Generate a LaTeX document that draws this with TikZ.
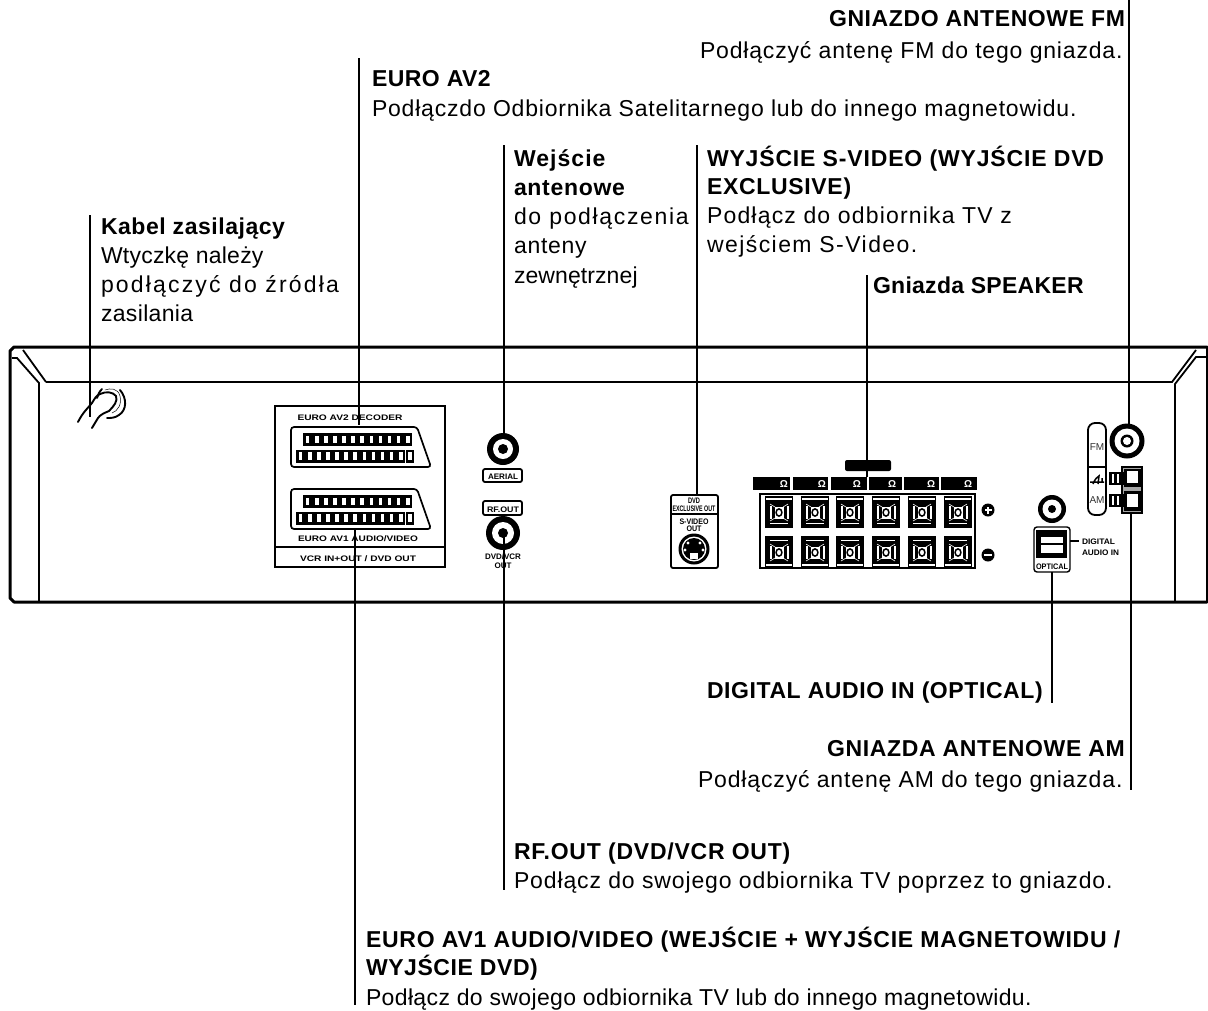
\documentclass[tikz,border=0pt]{standalone}
\usepackage{fontspec}
\usepackage{graphicx}
\setmainfont{Liberation Sans}
\ExplSyntaxOn
\newcommand\charcount[1]{\str_count:n{#1}}
\ExplSyntaxOff
\newsavebox\fitbox
\newcommand\fit[2]{\sbox\fitbox{#2}\edef\fitn{\charcount{#2}}\pgfmathsetmacro\fitsp{100*(#1*1.006-\wd\fitbox)/(\fitn*23)}\edef\fittmp{\noexpand\addfontfeature{LetterSpace=\fitsp}}\fittmp #2}
\tikzset{
 x=1pt,y=-1pt,
 lbl/.style={anchor=base west,inner sep=0pt,outer sep=0pt,font=\fontsize{23}{27}\selectfont},
 lblb/.style={lbl,font=\fontsize{23}{27}\selectfont\bfseries},
 tiny/.style={anchor=base,inner sep=0pt,outer sep=0pt,font=\fontsize{8}{9}\selectfont\bfseries},
 leader/.style={line width=1.3pt},
 chassis/.style={line width=3pt,line cap=round,line join=round},
 chassisthin/.style={line width=1.8pt,line join=miter},
 boxln/.style={line width=1.6pt,rounded corners=2pt}
}
\newcommand\lab[6][lbl]{\node[#1] (#2) at (#3,#4) {\fit{#5}{#6}};}
\newcommand\tinylab[6][black]{\node[tiny,text=#1] (#2) at (#3,#4) {\resizebox{#5pt}{\height}{#6}};}
\newcommand\scart[1]{%
 \begin{scope}[yshift=-#1pt]
  \draw[line width=1.7pt,rounded corners=3pt] (291,427) -- (417,427) -- (431,467) -- (291,467) -- cycle;
  \foreach \i in {0,...,11}{\fill (303+9.1*\i,433) rectangle +(9.1,12.5); \fill[white] (305.8+9.1*\i,435.5) rectangle +(3.6,7.5);}
  \foreach \i in {0,...,11}{\fill (296+9.1*\i,449.5) rectangle +(9.1,13); \fill[white] (298.8+9.1*\i,452) rectangle +(3.6,8);}
  \fill (406,449.5) rectangle +(8,13); \fill[white] (408.3,452) rectangle +(3.4,8);
 \end{scope}}
\newcommand\coax[5]{% x y outer white dot
 \fill (#1,#2) circle (#3); \fill[white] (#1,#2) circle (#4); \fill (#1,#2) circle (#5);}
\newcommand\terminal[3]{% x y flip(1 top, -1 bottom)
 \begin{scope}[shift={(#1,#2)}]
  \fill (0,0) rectangle (28,32);
  \ifnum#3=1
   \fill[white] (1,1.6) rectangle (27,4);
   \fill[white] (5,27) rectangle (23,28.4);
  \else
   \fill[white] (1,28) rectangle (27,30.4);
   \fill[white] (5,3.6) rectangle (23,5);
  \fi
  \fill[white] (4.5,10) rectangle (6.5,23);
  \fill[white] (21.5,10) rectangle (23.5,23);
  \draw[white,line width=.6pt] (5,8) -- (10,11) (23,8) -- (18,11) (5,25) -- (10,22) (23,25) -- (18,22);
  \fill[white] (9.5,10.5) rectangle (18.5,22.5);
  \draw[line width=1.5pt] (14,16.5) ellipse (2.9 and 3.6);
  \fill[white] (14,16.5) circle (1.4);
 \end{scope}}
\begin{document}
\begin{tikzpicture}
\useasboundingbox (0,0) rectangle (1208,1010);
% ---------- chassis
\draw[chassis] (1207,347) -- (14,347) -- (10,351) -- (10,598) -- (14,602) -- (1207,602);
\draw[line width=1.6pt] (1207,347) -- (1207,602);
\draw[chassisthin] (46,382) -- (1172,382) -- (1196,350);
\draw[chassisthin] (46,382) -- (23,350);
\draw[chassisthin] (12,358) -- (17,358) -- (39,383) -- (39,602);
\draw[chassisthin] (1207,357) -- (1196,357) -- (1175,384) -- (1175,602);
% ---------- power inlet
\draw[line width=1.9pt,line cap=round] (78,422) .. controls (83,412) and (88,408) .. (92,403) .. controls (95,398) and (96,396) .. (100,394) .. controls (106,391) and (113,392) .. (116,396) .. controls (118,401) and (114,406) .. (109,411) .. controls (104,413) and (100,415) .. (98,418) -- (92,428);
\draw[line width=1.9pt,line cap=round] (120,390) .. controls (127,398) and (127,410) .. (119,415) .. controls (115,418) and (111,418) .. (107,418);
\draw[line width=1.9pt,line cap=round] (102,389) .. controls (99,392) and (98,395) .. (97,398);
\draw[line width=0.5pt] (105,390) .. controls (110,388) and (118,388) .. (120,396) .. controls (122,404) and (118,411) .. (112,413);
% ---------- euro box
\draw[line width=1.7pt] (275,406) rectangle (445,567);
\draw[line width=1.6pt] (275,547) -- (445,547);
\tinylab{tEav2}{350}{420}{105}{EURO AV2 DECODER}
\tinylab{tEav1}{358}{541}{120}{EURO AV1 AUDIO/VIDEO}
\tinylab{tVcr}{358}{561}{116}{VCR IN+OUT / DVD OUT}
\scart{0}
\scart{62}
% ---------- aerial / rf out
\coax{503}{449}{16}{10}{5}
\draw[boxln,line width=1.8pt] (483,469) rectangle (522,482);
\tinylab{tAerial}{503}{479}{30}{AERIAL}
\draw[boxln,line width=1.8pt] (483,501) rectangle (522,515);
\tinylab{tRf}{503}{512}{32}{RF.OUT}
\coax{503}{533}{17}{11}{5}
\tinylab{tDvdvcr}{503}{559}{36}{DVD/VCR}
\tinylab{tOutb}{503}{568}{17}{OUT}
% ---------- s-video
\draw[boxln,line width=1.8pt] (671,495) rectangle (718,568);
\draw[line width=1.6pt] (671,514) -- (718,514);
\tinylab{tDvd}{694}{503}{12}{DVD}
\tinylab{tExcl}{694}{511}{43}{EXCLUSIVE OUT}
\tinylab{tSv}{694}{524}{29}{S-VIDEO}
\tinylab{tSvo}{694}{531}{15}{OUT}
\fill (694,549) circle (15.5);
\fill[white] (694,549) circle (12.5);
\fill (694,549) circle (11);
\fill[white] (688,543) circle (1.7) (700,543) circle (1.7) (685,550) circle (1.7) (703,550) circle (1.7);
\fill[white] (690,553) rectangle (698,559);
% ---------- speakers
\fill[rounded corners=2pt] (845,460) rectangle (891,471);
\foreach \a/\b/\o in {753/790/784,793/828/822,831/867/857,869/902/892,904/939/931,941/977/968}{
 \fill (\a,477) rectangle (\b,490);
 \node[anchor=center,inner sep=0pt,text=white,font=\fontsize{10}{10}\selectfont\bfseries] at (\o,484) {Ω};
}
\draw[line width=1.6pt] (760,494) rectangle (975,568);
\foreach \x in {765,801,836,872,908,944}{
 \terminal{\x}{496}{1}
 \terminal{\x}{536}{-1}
}
\fill (988,510) circle (6.5);
\fill[white] (984.5,508.8) rectangle (991.5,511.2);
\fill[white] (986.8,506.5) rectangle (989.2,513.5);
\fill (988,555) circle (6.5);
\fill[white] (984,553.8) rectangle (992,556.2);
% ---------- FM / AM
\draw[line width=1.8pt,rounded corners=7pt] (1088,423) rectangle (1106,515);
\draw[line width=1.6pt] (1088,467) -- (1106,467);
\node[anchor=center,inner sep=0pt,text=black!80,font=\fontsize{10}{10}\selectfont] (tFM) at (1097,447) {FM};
\node[anchor=center,inner sep=0pt,text=black!80,font=\fontsize{10}{10}\selectfont] (tAM) at (1097,500) {AM};
\draw[line width=1.5pt] (1090,482) -- (1104,482) (1093,484) .. controls (1095,479) and (1097,477) .. (1099,476) -- (1098,484) (1102,482) -- (1102,478);
\fill (1127,441) circle (17.5);
\fill[white] (1127,441) circle (12.5);
\fill (1127,441) circle (6.5);
\fill[white] (1127,441) circle (4);
\draw[line width=1.2pt,fill=black!35] (1122,467) rectangle (1142,513);
\fill (1123.5,468.5) rectangle (1140.5,487);
\fill (1123.5,490.5) rectangle (1140.5,511);
\fill[white] (1127,471) rectangle (1138,483);
\fill[white] (1127,494) rectangle (1138,507);
\foreach \y in {472,494}{
 \fill (1109,\y) rectangle (1124,\y+13);
 \fill[white] (1111.5,\y+2) rectangle (1114,\y+11);
 \fill[white] (1116.5,\y+2) rectangle (1119,\y+11);
}
% ---------- optical
\coax{1052}{509}{14}{9.5}{4}
\draw[boxln,line width=1.4pt,rounded corners=3pt] (1034,527) rectangle (1070,572);
\fill (1036,530) rectangle (1067,558);
\fill[white] (1041,537) rectangle (1063,553);
\draw[line width=1.6pt] (1041,544) -- (1063,544);
\tinylab{tOpt}{1052}{569}{32}{OPTICAL}
\draw[line width=1.3pt] (1070,541) -- (1079,541);
\node[tiny,anchor=base west] (tDig) at (1082,544) {\resizebox{33pt}{\height}{DIGITAL}};
\node[tiny,anchor=base west] (tAud) at (1082,555) {\resizebox{37pt}{\height}{AUDIO IN}};
% ---------- labels
\lab[lblb]{a1}{829}{26}{296}{GNIAZDO ANTENOWE FM}
\lab{a2}{700}{58}{425}{Podłączyć antenę FM do tego gniazda.}
\lab[lblb]{b1}{372}{86}{119}{EURO AV2}
\lab{b2}{372}{116}{706}{Podłączdo Odbiornika Satelitarnego lub do innego magnetowidu.}
\lab[lblb]{c1}{514}{166}{92}{Wejście}
\lab[lblb]{c2}{514}{195}{111}{antenowe}
\lab{c3}{514}{224}{177}{do podłączenia}
\lab{c4}{514}{253}{73}{anteny}
\lab{c5}{514}{283}{123}{zewnętrznej}
\lab[lblb]{d1}{707}{166}{398}{WYJŚCIE S-VIDEO (WYJŚCIE DVD}
\lab[lblb]{d2}{707}{194}{144}{EXCLUSIVE)}
\lab{d3}{707}{223}{309}{Podłącz do odbiornika TV z}
\lab{d4}{707}{252}{212}{wejściem S-Video.}
\lab[lblb]{e1}{873}{293}{210}{Gniazda SPEAKER}
\lab[lblb]{f1}{101}{234}{184}{Kabel zasilający}
\lab{f2}{101}{263}{162}{Wtyczkę należy}
\lab{f3}{101}{292}{243}{podłączyć do źródła}
\lab{f4}{101}{321}{92}{zasilania}
\lab[lblb]{g1}{707}{698}{336}{DIGITAL AUDIO IN (OPTICAL)}
\lab[lblb]{h1}{827}{756}{298}{GNIAZDA ANTENOWE AM}
\lab{h2}{698}{787}{427}{Podłączyć antenę AM do tego gniazda.}
\lab[lblb]{i1}{514}{859}{277}{RF.OUT (DVD/VCR OUT)}
\lab{i2}{514}{888}{602}{Podłącz do swojego odbiornika TV poprzez to gniazdo.}
\lab[lblb]{j1}{366}{947}{756}{EURO AV1 AUDIO/VIDEO (WEJŚCIE + WYJŚCIE MAGNETOWIDU /}
\lab[lblb]{j2}{366}{975}{172}{WYJŚCIE DVD)}
\lab{j3}{366}{1005}{665}{Podłącz do swojego odbiornika TV lub do innego magnetowidu.}
% ---------- leaders
\coordinate (fmA) at (1129,0);      \coordinate (fmB) at (1129,425);
\coordinate (e2A) at (359,58);      \coordinate (e2B) at (359,425);
\coordinate (aeA) at (504,145);     \coordinate (aeB) at (504,434);
\coordinate (svA) at (697,145);     \coordinate (svB) at (697,495);
\coordinate (spA) at (867,275);     \coordinate (spB) at (867,477);
\coordinate (pwA) at (90,215);      \coordinate (pwB) at (90,417);
\coordinate (opA) at (1052,572);    \coordinate (opB) at (1052,703);
\coordinate (amA) at (1131,512);    \coordinate (amB) at (1131,790);
\coordinate (rfA) at (504,533);     \coordinate (rfB) at (504,890);
\coordinate (e1A) at (355,528);     \coordinate (e1B) at (355,1005);
\foreach \p in {fm,e2,ae,sv,sp,pw,op,am,rf,e1}{\draw[leader] (\p A) -- (\p B);}
\end{tikzpicture}
\end{document}
